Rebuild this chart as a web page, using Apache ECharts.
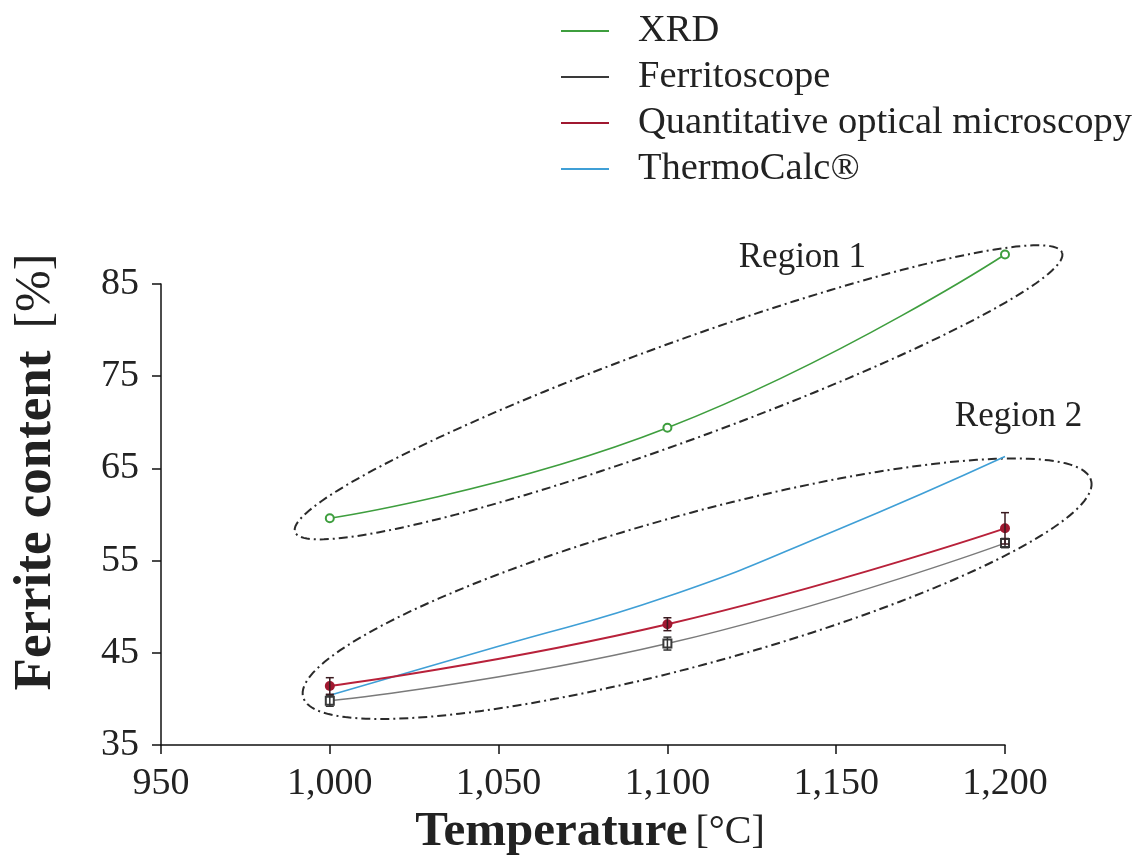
<!DOCTYPE html>
<html>
<head>
<meta charset="utf-8">
<script src="https://cdn.jsdelivr.net/npm/echarts@6/dist/echarts.min.js"></script>
<style>html,body{margin:0;padding:0;background:#fff}#c{width:1136px;height:858px}</style>
</head>
<body>
<div id="c"></div>
<script>
// ---- data ----
const temps = [1000, 1100, 1200];
const xrd = [59.6, 69.4, 88.2];
const ferritoscope = [39.8, 46.0, 56.9];
const ferritoscopeErr = [0.6, 0.7, 0.5];
const optical = [41.4, 48.1, 58.5];
const opticalErr = [0.9, 0.7, 1.7];
const thermoTemps = [1000, 1050, 1100, 1150, 1200];
const thermoCalc = [40.4, 45.7, 51.1, 58.3, 66.3];
const xTicks = [950, 1000, 1050, 1100, 1150, 1200];
const yTicks = [35, 45, 55, 65, 75, 85];
const seriesNames = ['XRD', 'Ferritoscope', 'Quantitative optical microscopy', 'ThermoCalc®'];
// annotation regions: ellipse tips in data units (T1, F1, T2, F2)
const region1 = [989.7, 58.1, 1216.9, 88.4];
const region2 = [992.1, 40.2, 1225.5, 63.7];
const regionLabels = [['Region 1', 1140, 87.8], ['Region 2', 1204, 70.6]];

const SERIF = '"Liberation Serif", "DejaVu Serif", serif';
const colors = { xrd: '#3e9e3e', fer: '#7a7a7a', opt: '#b8213a', thc: '#3f9fd6' };

function pairs(xs, ys) { return xs.map((x, i) => [x, ys[i]]); }
function errData(xs, ys, es) { return xs.map((x, i) => [x, ys[i] - es[i], ys[i] + es[i]]); }

function ellipseRender(minorPx) {
  return function (params, api) {
    const p1 = api.coord([api.value(0), api.value(1)]);
    const p2 = api.coord([api.value(2), api.value(3)]);
    const cx = (p1[0] + p2[0]) / 2, cy = (p1[1] + p2[1]) / 2;
    const ang = Math.atan2(p2[1] - p1[1], p2[0] - p1[0]);
    const a = Math.hypot(p2[0] - p1[0], p2[1] - p1[1]) / 2;
    const b = minorPx[params.dataIndex];
    const pts = [];
    const N = 180;
    for (let k = 0; k <= N; k++) {
      const t = 2 * Math.PI * k / N;
      const ex = a * Math.cos(t), ey = b * Math.sin(t);
      pts.push([cx + ex * Math.cos(ang) - ey * Math.sin(ang), cy + ex * Math.sin(ang) + ey * Math.cos(ang)]);
    }
    return {
      type: 'polyline', shape: { points: pts },
      style: { fill: null, stroke: '#2a2a2a', lineWidth: 2, lineDash: [9, 4, 2, 4] },
      silent: true
    };
  };
}

function errRender(color) {
  return function (params, api) {
    const lo = api.coord([api.value(0), api.value(1)]);
    const hi = api.coord([api.value(0), api.value(2)]);
    const w = 4;
    const st = { stroke: color, lineWidth: 1.5 };
    return {
      type: 'group', children: [
        { type: 'line', shape: { x1: lo[0], y1: lo[1], x2: hi[0], y2: hi[1] }, style: st },
        { type: 'line', shape: { x1: lo[0] - w, y1: lo[1], x2: lo[0] + w, y2: lo[1] }, style: st },
        { type: 'line', shape: { x1: hi[0] - w, y1: hi[1], x2: hi[0] + w, y2: hi[1] }, style: st }
      ]
    };
  };
}

const chart = echarts.init(document.getElementById('c'), null, { renderer: 'canvas' });
chart.setOption({
  animation: false,
  backgroundColor: '#fff',
  grid: { left: 161, right: 131, top: 284, bottom: 113, containLabel: false, outerBoundsMode: 'none' },
  legend: {
    orient: 'vertical', left: 561, top: 11, padding: 0, itemWidth: 48, itemHeight: 2, itemGap: 6,
    icon: 'rect',
    data: seriesNames,
    textStyle: { fontFamily: SERIF, fontSize: 38.5, color: '#222', lineHeight: 40, padding: [0, 0, 0, 24] }
  },
  xAxis: {
    type: 'value', min: xTicks[0], max: xTicks[xTicks.length - 1], interval: 50,
    splitLine: { show: false },
    axisLine: { lineStyle: { color: '#111', width: 1.5 } },
    axisTick: { show: true, length: 9, inside: false, lineStyle: { color: '#111', width: 1.5 } },
    axisLabel: {
      margin: 20, fontFamily: SERIF, fontSize: 38, color: '#222',
      formatter: v => String(v).replace(/\B(?=(\d{3})+(?!\d))/g, ',')
    },
    name: '{b|Temperature}{n|[°C]}', nameLocation: 'middle', nameGap: 58,
    nameTextStyle: {
      padding: [0, 0, 0, 14],
      rich: {
        b: { fontFamily: SERIF, fontWeight: 'bold', fontSize: 49, color: '#222' },
        n: { fontFamily: SERIF, fontSize: 40, color: '#222', padding: [0, 0, 0, 8] }
      }
    }
  },
  yAxis: {
    type: 'value', min: yTicks[0], max: yTicks[yTicks.length - 1], interval: 10,
    splitLine: { show: false },
    axisLine: { show: true, lineStyle: { color: '#111', width: 1.5 } },
    axisTick: { show: true, length: 9, inside: false, lineStyle: { color: '#111', width: 1.5 } },
    axisLabel: { margin: 22, fontFamily: SERIF, fontSize: 38, color: '#222' }
  },
  graphic: [{
    type: 'text', x: 36, y: 472, rotation: Math.PI / 2,
    style: {
      text: '{b|Ferrite content}{s| }{n|[%]}', align: 'center', verticalAlign: 'middle',
      rich: {
        b: { fontFamily: SERIF, fontWeight: 'bold', fontSize: 53, fill: '#222' },
        s: { fontSize: 14, width: 22 },
        n: { fontFamily: SERIF, fontSize: 50, fill: '#222' }
      }
    }
  }],
  series: [
    {
      name: 'ellipses', type: 'custom', silent: true, clip: false, z: 1,
      renderItem: ellipseRender([49, 75]),
      data: [region1, region2]
    },
    {
      name: 'regionLabels', type: 'custom', silent: true, clip: false, z: 5,
      renderItem: function (params, api) {
        const p = api.coord([api.value(1), api.value(2)]);
        return {
          type: 'text', x: p[0], y: p[1],
          style: { text: regionLabels[params.dataIndex][0], fontFamily: SERIF, fontSize: 35, fill: '#222', align: 'center', verticalAlign: 'middle' }
        };
      },
      data: regionLabels
    },
    {
      name: seriesNames[0], type: 'line', smooth: true, clip: false, z: 3,
      data: pairs(temps, xrd), color: colors.xrd,
      lineStyle: { width: 1.6, color: colors.xrd },
      symbol: 'emptyCircle', symbolSize: 8,
      itemStyle: { color: colors.xrd, borderWidth: 1.5 }
    },
    {
      name: seriesNames[1], type: 'line', smooth: true, clip: false, z: 3,
      data: pairs(temps, ferritoscope), color: '#4a4a4a',
      lineStyle: { width: 1.5, color: colors.fer },
      symbol: 'emptyRect', symbolSize: 8,
      itemStyle: { color: '#3a3a3a', borderWidth: 1.5 }
    },
    {
      name: seriesNames[2], type: 'line', smooth: true, clip: false, z: 4,
      data: pairs(temps, optical), color: colors.opt,
      lineStyle: { width: 2, color: colors.opt },
      symbol: 'circle', symbolSize: 10,
      itemStyle: { color: '#a01830' }
    },
    {
      name: seriesNames[3], type: 'line', smooth: true, clip: false, z: 3,
      data: pairs(thermoTemps, thermoCalc), color: colors.thc,
      lineStyle: { width: 1.6, color: colors.thc },
      showSymbol: false, symbol: 'none'
    },
    {
      name: 'ferErr', type: 'custom', clip: false, z: 5, silent: true,
      renderItem: errRender('#333'), data: errData(temps, ferritoscope, ferritoscopeErr)
    },
    {
      name: 'optErr', type: 'custom', clip: false, z: 5, silent: true,
      renderItem: errRender('#3a1a1f'), data: errData(temps, optical, opticalErr)
    }
  ]
});
</script>
</body>
</html>
